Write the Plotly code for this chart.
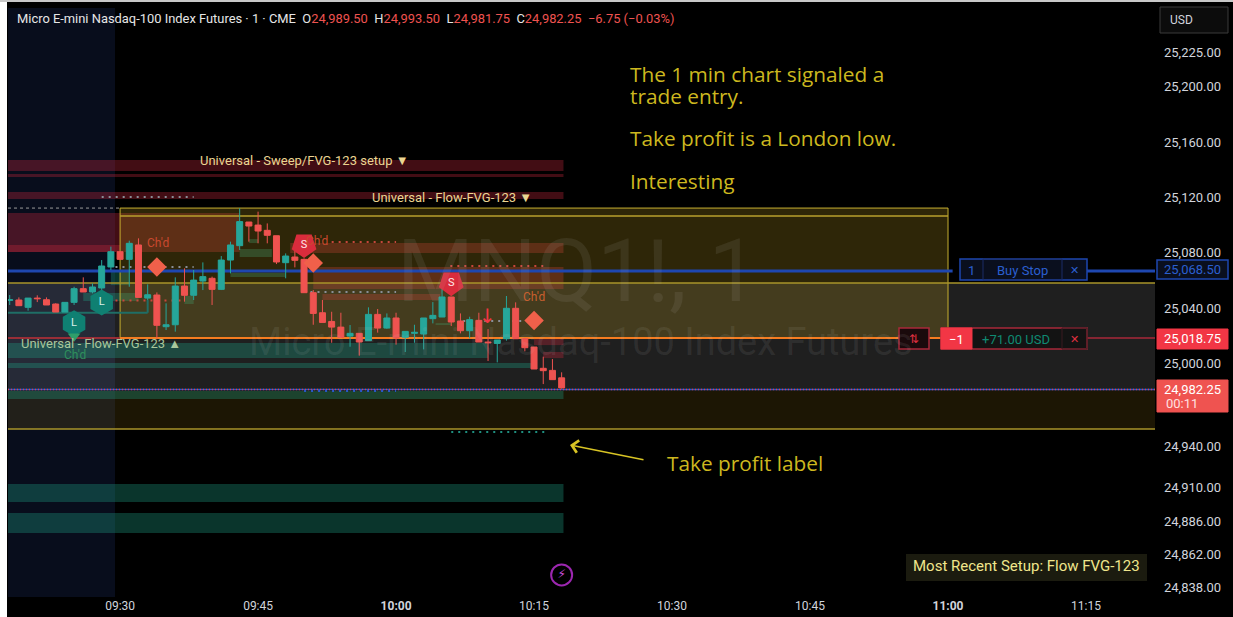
import pandas as pd
import plotly.graph_objects as go

SESSION = "2025-10-01 09:30:00"
def t(m):
    return (pd.Timestamp(SESSION) + pd.Timedelta(minutes=m)).strftime("%Y-%m-%d %H:%M:%S")

# minute bars, k = minutes after 09:30
bar_minutes = list(range(-12, 49))
opens = [25045.5,25045.8,25040.5,25047.2,25046.0,25042.9,25037.1,25044.1,25054.0,25051.6,25054.5,25069.7,
         25080.75,25075.2,25085.6,25047.2,25049.4,25026.5,25027.9,25055.9,25049.2,25059.5,25061.5,25053.5,
         25074.7,25085.1,25102.2,25100.0,25096.2,25092.3,25072.8,25076.9,25075.2,25051.1,25036.6,25030.3,
         25026.2,25019.7,25021.7,25016.4,25035.4,25025.5,25032.8,25018.8,25021.7,25021.2,25032.3,25033.5,
         25048.0,25030.6,25023.6,25031.1,25015.4,25014.4,25017.8,25039.8,25017.8,25011.8,24996.4,24994.9,24989.5]
highs = [25049.4,25047.7,25047.2,25049.2,25047.7,25043.4,25044.1,25055.4,25062.2,25057.8,25074.7,25084.4,
         25080.75,25088.7,25090.4,25057.1,25051.3,25043.4,25062.2,25068.7,25067.5,25073.0,25062.7,25077.6,
         25088.0,25112.1,25102.2,25109.7,25101.2,25092.3,25079.5,25085.6,25075.9,25053.0,25045.8,25037.3,
         25036.6,25027.7,25021.7,25040.5,25039.3,25036.1,25036.6,25023.1,25027.9,25032.8,25044.3,25056.6,
         25048.0,25036.1,25033.7,25036.6,25024.8,25016.9,25048.7,25044.1,25017.8,25011.8,25004.8,25003.1,24993.5]
lows = [25042.2,25041.7,25038.1,25044.3,25042.2,25037.1,25037.1,25042.2,25051.6,25050.6,25053.0,25067.5,
        25074.7,25055.4,25047.7,25045.8,25018.0,25024.1,25022.9,25044.6,25045.8,25053.0,25042.2,25053.0,
        25065.1,25082.0,25088.0,25086.8,25086.8,25071.8,25061.5,25069.4,25051.1,25027.9,25029.6,25014.9,
        25018.8,25012.0,25005.5,25016.4,25022.2,25025.0,25013.5,25008.2,25014.9,25010.1,25028.9,25033.5,
        25027.0,25021.7,25018.0,25015.4,25001.7,25000.7,25016.4,25017.8,25008.7,24995.9,24985.0,24988.2,24981.75]
closes = [25046.0,25041.7,25047.2,25046.75,25042.2,25037.1,25044.1,25054.0,25051.6,25055.2,25070.4,25080.75,
          25075.2,25086.8,25047.7,25049.6,25027.5,25027.9,25055.9,25049.2,25060.2,25062.7,25053.5,25074.7,
          25085.6,25102.5,25099.3,25095.7,25092.6,25073.3,25077.6,25074.5,25051.1,25036.1,25029.6,25026.2,
          25018.8,25021.7,25015.4,25035.4,25025.5,25032.8,25018.3,25023.1,25022.4,25032.8,25034.7,25048.0,
          25029.9,25023.6,25031.6,25015.4,25014.9,25016.9,25039.8,25017.8,25011.3,24995.9,24994.7,24988.2,24982.25]

price_ticks = [25225,25200,25160,25120,25080,25040,25000,24940,24910,24886,24862,24838]
time_ticks = [0,15,30,45,60,75,90,105]
time_labels = ["09:30","09:45","<b>10:00</b>","10:15","10:30","10:45","<b>11:00</b>","11:15"]

# zones: (start minute, end minute, low, high)
red_zones = [(-13,48.2,25139.1,25147.1),(-13,48.2,25134.8,25136.9),(-13,48.2,25118.8,25123.9),
             (-13,13,25080.5,25108.7),(-13,0,25080.5,25085.6),
             (18.5,48.2,25079.8,25087.0),(21,48.2,25053.7,25069.7),(22,34.8,25045.8,25050.1),
             (45,48.2,25013.2,25018.3),(46,48.2,25003.8,25008.2)]
teal_zones = [(-13,40,25003.8,25014.7),(-13,44.8,24996.6,25000.2),(-13,48.2,24974.2,24980.0),
              (-13,48.2,24899.7,24912.7),(-13,48.2,24877.2,24891.7),
              (-1,1,25056.6,25067.5),(-4,2,25045.0,25050.8),(13,16.5,25076.9,25082.7),
              (12,18,25062.4,25065.3),(14,15,25087.0,25089.9),(7,8,25042.9,25048.7),(34.3,36,25027.7,25029.1)]
# dotted levels: (start, end, price)
gray_dots = [(-2,8,25120.3),(-0.5,8,25069.7),(20.7,30,25051.6),(37.3,46,25030.6)]
red_dots = [(-0.5,7,25045.4),(23,30,25087.7),(35.9,46,25070.4)]
blue_dots = [(20,30,24980.0)]
green_dots = [(36,46.2,24950.3)]

LEFT, RIGHT = -12.17, 112.5
PLOT_L, PLOT_T, PLOT_W, PLOT_H = 8, 8, 1147, 589
buy_stop, position, last_line = 25066.8, 25018.3, 24981.0
box_top, box_inner, box_bottom, mid_level, tp_level = 25112.3, 25106.5, 25018.3, 25058.1, 24952.5

def px(x): return (x-PLOT_L)/PLOT_W
def py(y): return 1-(y-PLOT_T)/PLOT_H

shapes, notes = [], []
def zone(m0,m1,lo,hi,fill,line=None,w=0,dash=None,layer="below"):
    shapes.append(dict(type="rect",xref="x",yref="y",x0=t(m0),x1=t(m1),y0=lo,y1=hi,fillcolor=fill,
                       line=dict(color=line or "rgba(0,0,0,0)",width=w,dash=dash or "solid"),layer=layer))
def level(m0,m1,p,color,w=1,dash="solid",layer="below",p2=None):
    shapes.append(dict(type="line",xref="x",yref="y",x0=t(m0),x1=t(m1),y0=p,y1=p if p2 is None else p2,
                       line=dict(color=color,width=w,dash=dash),layer=layer))
def box(x0,y0,x1,y1,fill,line="rgba(0,0,0,0)",w=1):
    shapes.append(dict(type="rect",xref="paper",yref="paper",x0=px(x0),x1=px(x1),y0=py(y1),y1=py(y0),
                       fillcolor=fill,line=dict(color=line,width=w),layer="above"))
def note(x,y,s,size=12,color="#d1d4dc",anchor="left",font="Roboto",va="middle"):
    notes.append(dict(xref="paper",yref="paper",x=px(x),y=py(y),text=s,showarrow=False,xanchor=anchor,yanchor=va,
                      font=dict(size=size,color=color,family=font),align="left"))

# backgrounds
shapes.append(dict(type="rect",xref="x",yref="paper",x0=t(LEFT),x1=t(-0.55),y0=0,y1=1,fillcolor="#080d1c",line=dict(width=0),layer="below"))
zone(LEFT,RIGHT,last_line,mid_level,"rgba(255,255,255,0.12)")
zone(LEFT,RIGHT,tp_level,last_line,"rgba(140,110,20,0.2)")
# zones
for z in red_zones: zone(*z,"rgba(200,40,60,0.33)")
for z in teal_zones: zone(*z,"rgba(30,160,135,0.33)")
# projection box
zone(0,90,box_bottom,box_top,"rgba(170,140,30,0.27)","#c8b030",1)
level(0,90,box_inner,"#b8a02c",1.5)
level(LEFT,0,box_top,"#9a9a9a",1,"dot")
level(LEFT,RIGHT,mid_level,"#a8952a",1.5)
level(LEFT,RIGHT,tp_level,"#a8952a",1.5)
level(LEFT,0,position,"#c03038",1.5)
level(0,89.5,position,"#f57c20",2)
level(104,RIGHT,position,"#a8283a",1.5)
level(LEFT,RIGHT,last_line,"#2a57c8",1.5)
level(LEFT,RIGHT,last_line,"#e04050",1.5,"1px,2px")
level(LEFT,90.5,buy_stop,"#1e47b0",3)
level(104,RIGHT,buy_stop,"#1e47b0",3)
# teal guide
level(-13,3,25036.6,"#1f6e66",2)
level(3,3,25036.6,"#1f6e66",2,p2=25045.8)
# dotted levels
for d in gray_dots: level(d[0],d[1],d[2],"#8a8f98",2,"2px,5px")
for d in red_dots: level(d[0],d[1],d[2],"#c8463c",2,"2px,5px")
for d in blue_dots: level(d[0],d[1],d[2],"#2a57c8",2,"2px,5px")
for d in green_dots: level(d[0],d[1],d[2],"#1f8f7f",2,"2px,5px")

fig = go.Figure()
fig.add_trace(go.Candlestick(x=[t(m) for m in bar_minutes],open=opens,high=highs,low=lows,close=closes,
    increasing=dict(line=dict(color="#26a69a",width=1),fillcolor="#26a69a"),
    decreasing=dict(line=dict(color="#ef5350",width=1),fillcolor="#ef5350"),whiskerwidth=0,showlegend=False))

# signal markers
fig.add_trace(go.Scatter(x=[t(-5),t(-2)],y=[25029,25044],mode="markers+text",text=["L","L"],
    textfont=dict(color="#d8f0ea",size=11,family="Roboto"),
    marker=dict(symbol="hexagon",size=26,color="#0f8072"),showlegend=False))
fig.add_trace(go.Scatter(x=[t(20),t(36)],y=[25085.5,25058],mode="markers+text",text=["S","S"],
    textfont=dict(color="#ffe8e8",size=11,family="Roboto"),
    marker=dict(symbol="pentagon",angle=180,size=26,color="#d92c3c"),showlegend=False))
fig.add_trace(go.Scatter(x=[t(4),t(21),t(45)],y=[25069.7,25072.5,25031],mode="markers",
    marker=dict(symbol="diamond",size=15,color="#f0604a"),showlegend=False))
fig.add_trace(go.Scatter(x=[t(-5)],y=[25019.5],mode="markers",
    marker=dict(symbol="triangle-down",size=11,color="#2f9e6a"),showlegend=False))

# watermark
note(577,270,"MNQ1!, 1",88,"rgba(200,200,200,0.10)","center")
note(581,342,"Micro E-mini Nasdaq-100 Index Futures",38,"rgba(200,200,200,0.10)","center")
# chart labels
note(304,160,"Universal - Sweep/FVG-123 setup ▼",13,"#ecd592","center")
note(452,198,"Universal - Flow-FVG-123 ▼",13,"#ecd592","center")
note(101,343,"Universal - Flow-FVG-123 ▲",13,"#a9c79c","center")
note(75,355,"Ch'd",12,"#2f8f5c","center")
note(158,243,"Ch'd",12,"#c9492f","center")
note(317,241,"Ch'd",12,"#c9492f","center")
note(534,297,"Ch'd",12,"#c9602f","center")
note(488,316,"↓",20,"#f23645","center","DejaVu Sans")
# header
r = "#ef5350"
note(15,19,"Micro E-mini Nasdaq-100 Index Futures · 1 · CME  "
     f"O<span style='color:{r}'>24,989.50</span>  H<span style='color:{r}'>24,993.50</span>  "
     f"L<span style='color:{r}'>24,981.75</span>  C<span style='color:{r}'>24,982.25</span>  "
     f"<span style='color:{r}'>−6.75 (−0.03%)</span>",12.9,"#e6e6e6")
# commentary
gold = "#cdb81f"
note(628,74,"The 1 min chart signaled a",20.8,gold,font="Open Sans")
note(628,96,"trade entry.",20.8,gold,font="Open Sans")
note(628,138,"Take profit is a London low.",20.8,gold,font="Open Sans")
note(628,181,"Interesting",20.8,gold,font="Open Sans")
note(665,463,"Take profit label",20.8,gold,font="Open Sans")
notes.append(dict(xref="paper",yref="paper",x=px(570),y=py(445),ax=75,ay=15,text="",showarrow=True,
                  arrowhead=4,arrowsize=1.6,arrowwidth=1.5,arrowcolor="#d8c424"))
# setup box
box(906,554,1147,581,"#1b1b0f")
note(1026,566,"Most Recent Setup: Flow FVG-123",15,"#f0e68c","center")
# bolt
fig.add_trace(go.Scatter(x=[t(48)],y=[24847],mode="markers+text",text=["⚡"],
    textfont=dict(color="#d050e0",size=12,family="DejaVu Sans"),
    marker=dict(symbol="circle-open",size=21,color="#9c27b0",line=dict(width=2,color="#9c27b0")),showlegend=False))

# USD
box(1160,7,1228,33,"#0c0c0c","#3a3a3a")
note(1181,20,"USD",12,"#d1d4dc","center")
# order tags
box(960,259,1087,280,"#0a0f1e","#1e47b0",1.5)
box(983,259,1062,280,"rgba(0,0,0,0)","#1a2c66",1)
note(971,270,"1",13,"#2a5fd0","center")
note(1022,270,"Buy Stop",13,"#2a5fd0","center")
note(1074,270,"✕",11,"#2a5fd0","center","DejaVu Sans")
box(899,328,929,349,"#1a0a0c","#a8283a",1.5)
note(914,339,"⇅",12,"#e03040","center","DejaVu Sans")
box(941,328,1087,349,"#131313","#a8283a",1.5)
box(941,328,972,349,"#f23645","#f23645",1)
box(1062,328,1087,349,"rgba(0,0,0,0)","#3a1a20",1)
note(956,339,"−1",13,"#ffffff","center")
note(1016,339,"+71.00 USD",13,"#0f8a72","center")
note(1074,339,"✕",11,"#e03040","center","DejaVu Sans")
# price tags
box(1157,260,1228,279,"#0a0f1e","#1e47b0",1.5)
note(1192,269,"25,068.50",13,"#2a5fd0","center")
box(1157,329,1228,349,"#f23645","#f23645",1)
note(1192,338,"25,018.75",13,"#ffffff","center")
box(1157,380,1228,412,"#ef5350","#ef5350",1)
note(1192,389,"24,982.25",13,"#ffffff","center")
note(1164,403,"00:11",13,"#ffe0e0","left")
# frame strips
shapes.append(dict(type="rect",xref="paper",yref="paper",x0=px(0),x1=px(7),y0=py(617),y1=py(0),fillcolor="#ffffff",line=dict(width=0),layer="above"))
shapes.append(dict(type="rect",xref="paper",yref="paper",x0=px(0),x1=px(1233),y0=py(2),y1=py(0),fillcolor="#c8c8c8",line=dict(width=0),layer="above"))

fig.update_layout(width=1233,height=617,margin=dict(l=PLOT_L,r=78,t=PLOT_T,b=20,autoexpand=False),
    paper_bgcolor="#000000",plot_bgcolor="#000000",showlegend=False,shapes=shapes,annotations=notes,
    boxgap=0.35,boxgroupgap=0,
    font=dict(family="Roboto",color="#d1d4dc",size=12),
    xaxis=dict(type="date",range=[t(LEFT),t(RIGHT)],tickvals=[t(m) for m in time_ticks],ticktext=time_labels,
               showgrid=False,zeroline=False,showline=False,ticks="",rangeslider=dict(visible=False),automargin=False,
               tickfont=dict(size=12,color="#d1d4dc",family="Roboto")),
    yaxis=dict(side="right",range=[24831,25257],tickvals=price_ticks,ticktext=[f"{v:,.2f}" for v in price_ticks],
               showgrid=False,zeroline=False,showline=False,ticks="",automargin=False,ticklabelstandoff=8,
               tickfont=dict(size=13,color="#d1d4dc",family="Roboto")))
fig.write_html("out.html", config={"displayModeBar":False},
               post_script="document.body.style.margin='0';document.documentElement.style.overflow='hidden';")
